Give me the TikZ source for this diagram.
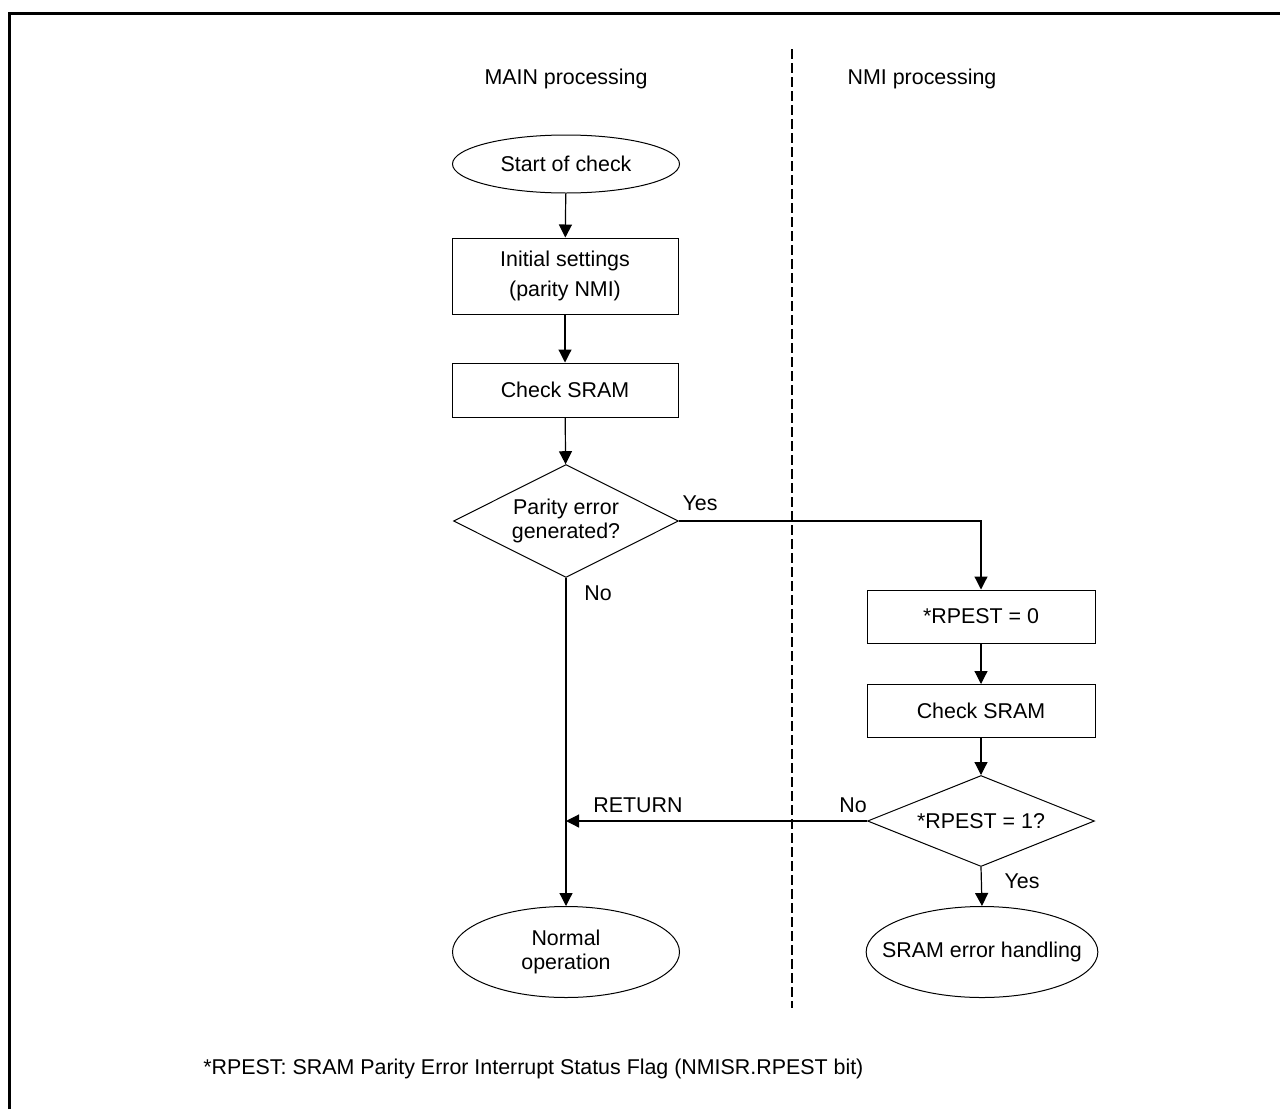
\documentclass[tikz,border=0pt]{standalone}
\usepackage{fontspec}
\setmainfont{Liberation Sans}
\usetikzlibrary{positioning,shapes.geometric,arrows.meta}

\tikzset{
  flowline/.style={line width=0.6pt},
  arr/.style={flowline,-{Triangle[length=6.5pt,width=6.5pt]}},
  process/.style={draw,line width=0.5pt,rectangle,minimum width=113pt,minimum height=26.5pt,inner sep=0pt,align=center},
  terminal/.style={draw,line width=0.5pt,ellipse,minimum width=113.5pt,minimum height=29pt,inner sep=0pt,align=center},
  decision/.style={draw,line width=0.5pt,diamond,aspect=2,inner sep=0pt,align=center},
  lbl/.style={inner sep=0pt}
}

\begin{document}
\begin{tikzpicture}[x=0.5pt,y=-0.5pt,font=\fontsize{10.7}{12}\selectfont]
    \useasboundingbox (0,0) rectangle (1280,1109);

    % Frame (top and left edges)
    \draw[line width=1.5pt] (9,1109) -- (9,13.5) -- (1280,13.5);

    % Lane titles and divider
    \node[lbl] (mainT) at (566,79) {MAIN processing};
    \node[lbl] (nmiT) at (922,79) {NMI processing};
    \coordinate (divTop) at (792,49);
    \coordinate (divBot) at (792,1008);
    \draw[line width=1pt,dash pattern=on 5pt off 2pt] (divTop) -- (divBot);

    % MAIN processing
    \node[terminal] (start) at (566,164) {Start of check};
    \node[process,minimum height=38pt,font=\fontsize{10.7}{15}\selectfont] (init) at (565,276) {Initial settings\\(parity NMI)};
    \node[process,minimum height=27pt] (chk) at (565,390) {Check SRAM};
    \node[decision,minimum width=112.5pt,minimum height=56.5pt] (parity) at (566,521) {Parity error\\generated?};
    \node[terminal,minimum height=45.5pt] (normal) at (566,952) {Normal\\operation};

    % NMI processing
    \node[process,minimum width=114pt] (clr) at (981,616.5) {*RPEST = 0};
    \node[process,minimum width=114pt] (chkN) at (981,711) {Check SRAM};
    \node[decision,minimum width=113.5pt,minimum height=45.5pt] (flag) at (981,821) {*RPEST = 1?};
    \node[terminal,inner xsep=-9pt,minimum width=115pt,minimum height=45.5pt] (errh) at (982,952) {SRAM error handling};

    % Connectors
    \draw[arr] (start) -- (init);
    \draw[arr] (init) -- (chk);
    \draw[arr] (chk) -- (parity);
    \draw[arr] (parity.south) -- (normal.north);
    \draw[arr] (parity.east) -| (clr.north);
    \draw[arr] (clr) -- (chkN);
    \draw[arr] (chkN) -- (flag);
    \draw[arr] (flag.west) -- (flag.west -| parity.south);
    \draw[arr] (flag.south) -- (errh.north);

    % Branch labels
    \node[lbl] (yes1) at (700,503) {Yes};
    \node[lbl] (no1) at (598,593) {No};
    \node[lbl] (ret) at (638,805) {RETURN};
    \node[lbl] (no2) at (853,805) {No};
    \node[lbl] (yes2) at (1022,881) {Yes};

    % Footnote
    \node[lbl,anchor=west] (note) at (203,1069) {*RPEST: SRAM Parity Error Interrupt Status Flag (NMISR.RPEST bit)};
\end{tikzpicture}
\end{document}
